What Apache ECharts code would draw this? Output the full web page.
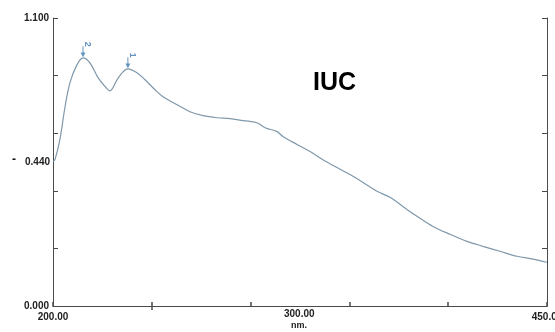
<!DOCTYPE html>
<html>
<head>
<meta charset="utf-8">
<script src="https://cdn.jsdelivr.net/npm/echarts@6/dist/echarts.min.js"></script>
<style>
html,body{margin:0;padding:0;background:#fff;}
#c{width:555px;height:332px;}
</style>
</head>
<body>
<div id="c"></div>
<script>
// Wavelength (nm) and absorbance
var wavelengths = [200, 201.0, 203.5, 206.1, 208.6, 212.1, 215.2, 218.7, 222.8, 227.3, 228.8, 232.4, 235.4, 237.9, 242.5, 246.6, 251.6, 255.7, 262.8, 269.3, 275.9, 283.0, 289.6, 296.2, 303.2, 307.3, 313.4, 316.4, 323.5, 330.1, 336.6, 343.7, 350.3, 356.9, 364.0, 370.5, 379.1, 384.2, 392.3, 400.9, 409.5, 417.6, 426.2, 434.8, 442.9, 450];
var absorbance = [0.552, 0.559, 0.636, 0.761, 0.853, 0.921, 0.948, 0.929, 0.872, 0.830, 0.822, 0.864, 0.894, 0.906, 0.891, 0.864, 0.826, 0.799, 0.769, 0.742, 0.727, 0.719, 0.716, 0.708, 0.700, 0.681, 0.666, 0.647, 0.617, 0.590, 0.559, 0.529, 0.502, 0.472, 0.438, 0.415, 0.369, 0.343, 0.304, 0.274, 0.247, 0.228, 0.209, 0.190, 0.179, 0.167];
// Peak picks
var peakWavelengths = [215.2, 237.9];
var peakValues = [0.948, 0.906];
var peakLabels = ['2', '1'];
// Axis labels
var xTickLabels = {200: '200.00', 450: '450.00'};
var yTickLabels = {'1.1': '1.100', '0': '0.000'};
var title = 'IUC';

var lineData = wavelengths.map(function (w, i) { return [w, absorbance[i]]; });
var peakData = peakWavelengths.map(function (w, i) { return {value: [w, peakValues[i]], name: peakLabels[i]}; });

var axisCol = '#4a4a4a';
var txtStyle = {fontFamily: 'Liberation Sans', fontSize: 10, fontWeight: 'bold', color: '#222'};

var chart = echarts.init(document.getElementById('c'), null, {renderer: 'canvas'});
chart.setOption({
  animation: false,
  backgroundColor: '#ffffff',
  grid: {left: 53, right: 8, top: 18, bottom: 26, containLabel: false, outerBoundsMode: 'none'},
  xAxis: [{
    type: 'value', min: 200, max: 450, interval: 50,
    axisLine: {show: true, onZero: false, lineStyle: {color: axisCol, width: 1}},
    axisTick: {show: true, inside: true, length: 4, lineStyle: {color: axisCol, width: 1.5}},
    splitLine: {show: false},
    axisLabel: Object.assign({
      margin: 6,
      alignMaxLabel: 'center',
      alignMinLabel: 'center',
      formatter: function (v) { return xTickLabels[v] || ''; }
    }, txtStyle)
  }, {
    type: 'value', min: 200, max: 450, position: 'top',
    axisLine: {show: true, lineStyle: {color: axisCol, width: 1}},
    axisTick: {show: true, inside: true, length: 4, customValues: [250], lineStyle: {color: axisCol, width: 1.5}},
    axisLabel: {show: false},
    splitLine: {show: false}
  }],
  yAxis: [{
    type: 'value', min: 0, max: 1.1, interval: 0.22,
    axisLine: {show: true, onZero: false, lineStyle: {color: axisCol, width: 1}},
    axisTick: {show: true, inside: true, length: 5, lineStyle: {color: axisCol, width: 1}},
    splitLine: {show: false},
    axisLabel: Object.assign({
      margin: 4,
      formatter: function (v) { return yTickLabels[String(Math.round(v * 1000) / 1000)] || ''; }
    }, txtStyle)
  }, {
    type: 'value', min: 0, max: 1.1, interval: 0.22, position: 'right',
    axisLine: {show: true, lineStyle: {color: axisCol, width: 1}},
    axisTick: {show: true, inside: true, length: 5, lineStyle: {color: axisCol, width: 1}},
    axisLabel: {show: false},
    splitLine: {show: false}
  }],
  series: [{
    type: 'line',
    data: lineData,
    showSymbol: false,
    smooth: 0.35,
    lineStyle: {color: '#7f98ab', width: 1.2},
    silent: true
  }, {
    type: 'scatter',
    data: peakData,
    symbol: 'path://M4,0 L6,0 L6,8 L10,8 L5,14 L0,8 L4,8 Z',
    symbolSize: [5, 11],
    symbolOffset: [0, -6],
    itemStyle: {color: '#3d78b0'},
    label: {
      show: true, position: 'top', distance: 2,
      formatter: function (p) { return p.name; },
      rotate: -90,
      fontFamily: 'Liberation Sans', fontSize: 9, fontWeight: 'bold', color: '#3d78b0'
    },
    silent: true
  }],
  graphic: [
    {type: 'text', left: 313, top: 71, style: {text: title, fontFamily: 'Liberation Sans', fontSize: 25, fontWeight: 'bold', fill: '#000'}},
    {type: 'text', right: 505, top: 157, style: {text: '0.440', font: 'bold 10px "Liberation Sans"', fill: '#222'}},
    {type: 'text', left: 12, top: 154, style: {text: '-', font: 'bold 12px "Liberation Sans"', fill: '#111'}},
    {type: 'text', left: 284, top: 309, style: {text: '300.00', font: 'bold 10px "Liberation Sans"', fill: '#222'}},
    {type: 'text', left: 291, top: 321, style: {text: 'nm.', font: 'bold 9px "Liberation Sans"', fill: '#222'}}
  ]
});
</script>
</body>
</html>
